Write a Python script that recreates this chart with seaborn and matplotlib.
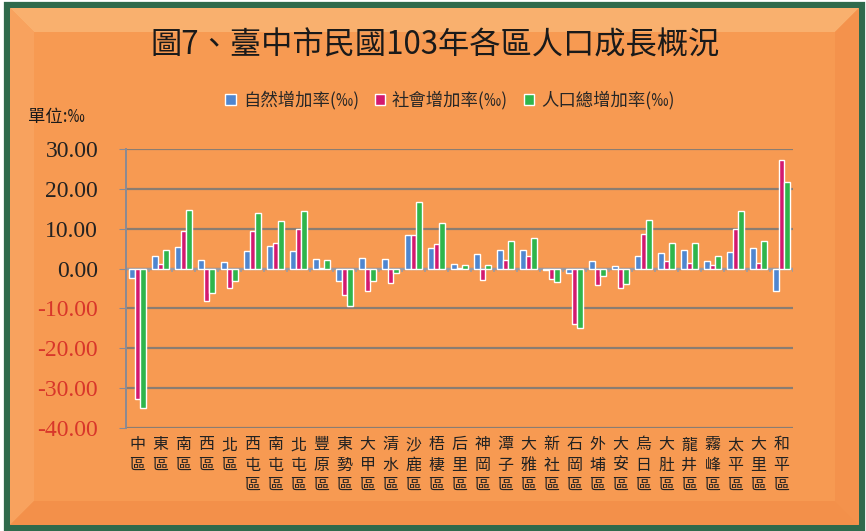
import numpy as np
import pandas as pd
import seaborn as sns
from matplotlib import pyplot as plt
from matplotlib.patches import Rectangle, Polygon

districts = ["中區", "東區", "南區", "西區", "北區", "西屯區", "南屯區", "北屯區", "豐原區", "東勢區",
             "大甲區", "清水區", "沙鹿區", "梧棲區", "后里區", "神岡區", "潭子區", "大雅區", "新社區", "石岡區",
             "外埔區", "大安區", "烏日區", "大肚區", "龍井區", "霧峰區", "太平區", "大里區", "和平區"]
natural = [-2.3, 3.2, 5.3, 2.1, 1.7, 4.3, 5.6, 4.5, 2.5, -3.0,
           2.6, 2.5, 8.3, 5.2, 1.1, 3.7, 4.7, 4.7, -0.3, -1.2,
           2.0, 0.7, 3.2, 4.0, 4.6, 1.8, 4.2, 5.2, -5.7]
social = [-32.8, 1.2, 9.5, -8.2, -4.8, 9.5, 6.4, 9.9, 0.2, -6.7,
          -5.7, -3.7, 8.3, 6.2, 0.2, -2.9, 2.2, 3.2, -2.7, -13.8,
          -4.0, -4.8, 8.6, 1.9, 1.4, 0.8, 10.0, 1.5, 27.3]
total = [-35.0, 4.6, 14.8, -6.1, -3.2, 13.9, 12.0, 14.5, 2.1, -9.4,
         -3.2, -1.1, 16.7, 11.4, 0.8, 1.0, 6.8, 7.7, -3.3, -14.8,
         -1.8, -3.8, 12.3, 6.3, 6.3, 3.1, 14.4, 6.9, 21.8]
series = ["自然增加率(‰)", "社會增加率(‰)", "人口總增加率(‰)"]
colors = ["#4f86cf", "#d3196f", "#2fb54b"]
yticks = [30, 20, 10, 0, -10, -20, -30, -40]

df = pd.DataFrame({"區": districts * 3,
                   "值": natural + social + total,
                   "系列": np.repeat(series, len(districts))})

sns.set_style("white")
plt.rcParams['font.family'] = ['Noto Sans CJK TC', 'DejaVu Sans']

W, H = 866, 531
fig = plt.figure(figsize=(W / 100, H / 100), dpi=100, facecolor="white")

def px(x, y):
    return (x / W, 1 - y / H)

# frame with bevel
fig.patches.append(Rectangle(px(7, 528), 855 / W, 523 / H, transform=fig.transFigure,
                             facecolor="#f79a52", edgecolor="#2f6a4c", linewidth=4.5, zorder=-10))
bevels = [
    ([(10, 8), (859, 8), (835, 32), (34, 32)], "#f9b06e"),
    ([(10, 8), (34, 32), (34, 501), (10, 525)], "#f8a25e"),
    ([(859, 8), (859, 525), (835, 501), (835, 32)], "#f4924c"),
    ([(10, 525), (34, 501), (835, 501), (859, 525)], "#f3904a"),
]
for pts, c in bevels:
    fig.patches.append(Polygon([px(*p) for p in pts], closed=True, transform=fig.transFigure,
                               facecolor=c, edgecolor="none", zorder=-9))

ax = fig.add_axes([126 / W, 1 - 428 / H, 667 / W, 279 / H])
ax.set_facecolor("none")

sns.barplot(data=df, x="區", y="值", hue="系列", palette=colors, width=0.72,
            saturation=1, ax=ax, legend=False, zorder=3)

ax.set_ylim(-40, 30)
ax.set_xlim(-0.5, len(districts) - 0.5)
ax.set_yticks(yticks)
ax.set_yticklabels([f"{v:.2f}" for v in yticks], family="Liberation Serif", fontsize=17)
for lab, v in zip(ax.get_yticklabels(), yticks):
    lab.set_color("#d8362a" if v < 0 else "#222222")
ax.tick_params(axis="y", left=True, length=5, color="#8a8a94", pad=15)
ax.grid(axis="y", color="#8a7d72", linewidth=1.6, zorder=0)
ax.set_axisbelow(True)
ax.axhline(0, color="#9a9aa2", linewidth=1.6, zorder=2)
# category tick marks on the zero line
bounds = np.arange(len(districts)) + 0.5
ax.vlines(bounds, -0.9, 0, color="#9a9aa2", linewidth=1.2, zorder=2)

ax.set_xticks(range(len(districts)))
ax.set_xticklabels(["\n".join(d) for d in districts], fontsize=11.5, va="top",
                   linespacing=1.25, color="#222222")
ax.tick_params(axis="x", length=0, pad=6)
ax.set_xlabel("")
ax.set_ylabel("")
for s in ["top", "right", "bottom"]:
    ax.spines[s].set_visible(False)
ax.spines["left"].set_color("#8a8a94")
ax.spines["left"].set_linewidth(1.4)

fig.text(435 / W, 1 - 45 / H, "圖7、臺中市民國103年各區人口成長概況", ha="center", va="center",
         fontsize=22.5, color="#1a1a1a")
fig.text(28 / W, 1 - 117 / H, "單位:‰", ha="left", va="center", fontsize=12.5, color="#1a1a1a")

handles = [Rectangle((0, 0), 1, 1, facecolor=c) for c in colors]
fig.legend(handles, series, loc="center", bbox_to_anchor=(450 / W, 1 - 100 / H), ncol=3,
           frameon=False, fontsize=12.5, handlelength=0.6, handleheight=0.6,
           handletextpad=0.4, columnspacing=0.9)

fig.savefig("out.png", dpi=100, facecolor=fig.get_facecolor())
